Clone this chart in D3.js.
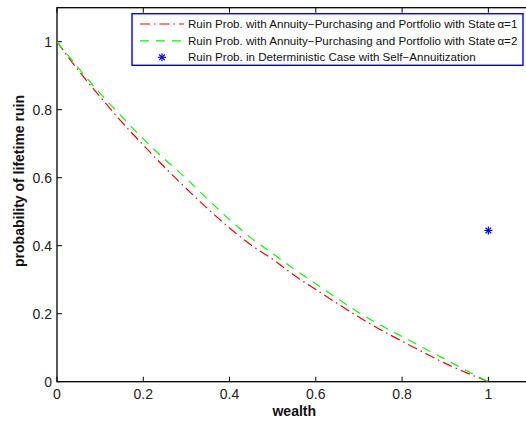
<!DOCTYPE html>
<html>
<head>
<meta charset="utf-8">
<script src="https://cdn.jsdelivr.net/npm/d3@7"></script>
<style>
  html, body { margin: 0; padding: 0; background: #fff; }
  svg { display: block; }
  text { font-family: "Liberation Sans", Arial, Helvetica, sans-serif; }
</style>
</head>
<body>
<svg id="chart" width="526" height="424"></svg>
<script>
// ---- data ----
const wealth = [0, 0.05, 0.1, 0.15, 0.2, 0.25, 0.3, 0.35, 0.4, 0.45, 0.5, 0.55, 0.6, 0.65, 0.7, 0.75, 0.8, 0.85, 0.9, 0.95, 1.0];
const ruinAlpha1 = [1.000, 0.915, 0.838, 0.764, 0.696, 0.630, 0.568, 0.508, 0.452, 0.402, 0.360, 0.313, 0.271, 0.230, 0.190, 0.153, 0.119, 0.086, 0.054, 0.026, 0.000];
const ruinAlpha2 = [1.000, 0.922, 0.848, 0.780, 0.714, 0.654, 0.597, 0.536, 0.477, 0.423, 0.377, 0.331, 0.288, 0.245, 0.203, 0.166, 0.133, 0.099, 0.066, 0.032, 0.000];
const detWealth = [1.0];
const detRuin = [0.445];
const xTicks = [0, 0.2, 0.4, 0.6, 0.8, 1];
const yTicks = [0, 0.2, 0.4, 0.6, 0.8, 1];
const seriesLabels = [
  "Ruin Prob. with Annuity\u2212Purchasing and Portfolio with State\u2009\u03b1=1",
  "Ruin Prob. with Annuity\u2212Purchasing and Portfolio with State\u2009\u03b1=2",
  "Ruin Prob. in Deterministic Case with Self\u2212Annuitization"
];
const xLabel = "wealth";
const yLabel = "probability of lifetime ruin";

// ---- layout ----
const svg = d3.select("#chart");
const pLeft = 57, pRight = 531.5, pTop = 7.7, pBottom = 381.7;
const x = d3.scaleLinear().domain([0, 1.1]).range([pLeft, pRight]);
const y = d3.scaleLinear().domain([0, 1.1]).range([pBottom, pTop]);

const fontSize = 14;

// axes box
const g = svg.append("g");
g.append("rect").attr("x", pLeft).attr("y", pTop).attr("width", pRight - pLeft).attr("height", pBottom - pTop)
  .attr("fill", "none").attr("stroke", "#000").attr("stroke-width", 1.3);

// ticks (inward, on all sides)
const tickLen = 5;
xTicks.forEach(t => {
  g.append("line").attr("x1", x(t)).attr("x2", x(t)).attr("y1", pBottom).attr("y2", pBottom - tickLen).attr("stroke", "#000");
  g.append("line").attr("x1", x(t)).attr("x2", x(t)).attr("y1", pTop).attr("y2", pTop + tickLen).attr("stroke", "#000");
  g.append("text").attr("x", x(t)).attr("y", 398.5).attr("text-anchor", "middle")
    .attr("font-size", fontSize).attr("fill", "#222").text(d3.format("~g")(t));
});
yTicks.forEach(t => {
  g.append("line").attr("x1", pLeft).attr("x2", pLeft + tickLen).attr("y1", y(t)).attr("y2", y(t)).attr("stroke", "#000");
  g.append("line").attr("x1", pRight).attr("x2", pRight - tickLen).attr("y1", y(t)).attr("y2", y(t)).attr("stroke", "#000");
  g.append("text").attr("x", 52).attr("y", y(t)).attr("dy", "0.36em").attr("text-anchor", "end")
    .attr("font-size", fontSize).attr("fill", "#222").text(d3.format("~g")(t));
});

// axis labels
svg.append("text").attr("x", (pLeft + pRight) / 2).attr("y", 416).attr("text-anchor", "middle")
  .attr("font-size", fontSize).attr("font-weight", "bold").attr("fill", "#111").text(xLabel);
svg.append("text").attr("transform", "translate(24,181) rotate(-90)").attr("text-anchor", "middle")
  .attr("font-size", fontSize).attr("font-weight", "bold").attr("fill", "#111").text(yLabel);

// curves
const line = d3.line().x((d, i) => x(wealth[i])).y(d => y(d)).curve(d3.curveMonotoneX);
svg.append("path").attr("d", line(ruinAlpha1)).attr("fill", "none").attr("stroke", "#ff0000")
  .attr("stroke-width", 1.2).attr("stroke-dasharray", "10,4,1.5,4");
svg.append("path").attr("d", line(ruinAlpha2)).attr("fill", "none").attr("stroke", "#00ff00")
  .attr("stroke-width", 1.2).attr("stroke-dasharray", "9,7");

// star marker
function star(sel, cx, cy, r) {
  const gg = sel.append("g").attr("stroke", "#0000ff").attr("stroke-width", 1.2);
  [0, 45, 90, 135].forEach(a => {
    const rad = a * Math.PI / 180;
    gg.append("line").attr("x1", cx - r * Math.cos(rad)).attr("y1", cy - r * Math.sin(rad))
      .attr("x2", cx + r * Math.cos(rad)).attr("y2", cy + r * Math.sin(rad));
  });
}
detWealth.forEach((w, i) => star(svg, x(w), y(detRuin[i]), 4));

// legend
const lg = svg.append("g");
lg.append("rect").attr("x", 132).attr("y", 13.7).attr("width", 391).attr("height", 51.6)
  .attr("fill", "#fff").attr("stroke", "#0000ff").attr("stroke-width", 1.4);
const rows = [24, 40.8, 57.3];
lg.append("line").attr("x1", 140).attr("x2", 184).attr("y1", rows[0]).attr("y2", rows[0])
  .attr("stroke", "#ff0000").attr("stroke-width", 1.2).attr("stroke-dasharray", "10,4,1.5,4");
lg.append("line").attr("x1", 140).attr("x2", 184).attr("y1", rows[1]).attr("y2", rows[1])
  .attr("stroke", "#00ff00").attr("stroke-width", 1.2).attr("stroke-dasharray", "9,7");
star(lg, 162, rows[2], 4);
seriesLabels.forEach((s, i) => {
  lg.append("text").attr("x", 188).attr("y", rows[i]).attr("dy", "0.36em")
    .attr("font-size", 11.6).attr("fill", "#111").text(s);
});
</script>
</body>
</html>
